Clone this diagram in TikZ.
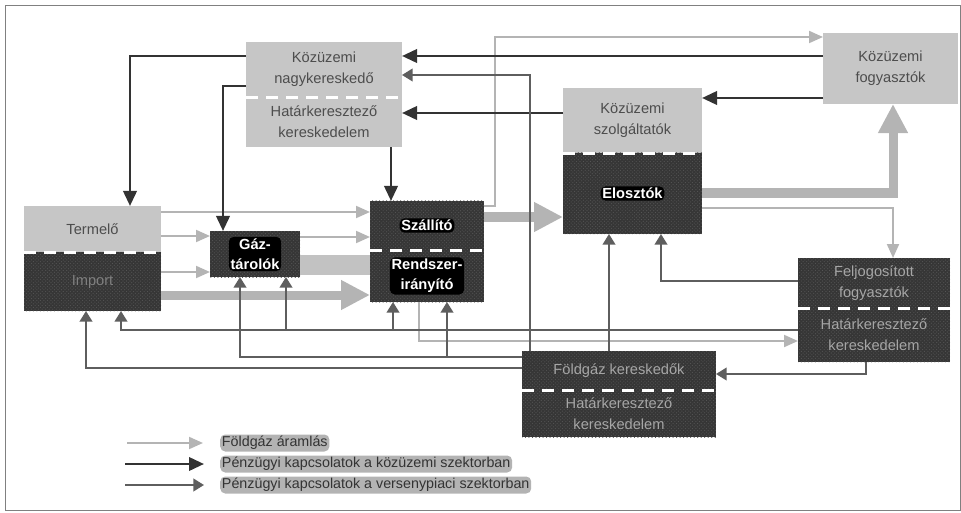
\documentclass[tikz,border=0pt]{standalone}
\usepackage{fontspec}
\setmainfont{Liberation Sans}
\usepackage{xcolor}
\usepackage{tikz}
\usetikzlibrary{arrows.meta,patterns}

\definecolor{lightfill}{HTML}{C6C6C6}
\definecolor{darkfill}{HTML}{363636}
\definecolor{speckle}{HTML}{555555}
\definecolor{gasgray}{HTML}{B4B4B4}
\definecolor{bandgray}{HTML}{C2C2C2}
\definecolor{utilgray}{HTML}{333333}
\definecolor{compgray}{HTML}{5E5E5E}
\definecolor{boxtext}{HTML}{4D4D4D}
\definecolor{dimtext}{HTML}{A6A6A6}
\definecolor{tagfill}{HTML}{B3B3B3}

\tikzset{
	box/.style={anchor=north west, inner sep=0pt, outer sep=0pt, align=center, font=\fontsize{12.5}{18}\selectfont},
	lightbox/.style={box, fill=lightfill, text=boxtext},
	darkbox/.style={box, fill=darkfill, text=dimtext, postaction={pattern=crosshatch dots, pattern color=speckle}},
	divider/.style={white, line width=0.09cm, dash pattern=on 0.36cm off 0.24cm},
	hilabel/.style={fill=black, text=white, rounded corners=0.15cm, inner sep=1.5pt, align=center, font=\fontsize{12.5}{17}\selectfont\bfseries},
	tag/.style={anchor=west, fill=tagfill, text=utilgray, rounded corners=0.15cm, inner sep=1.5pt, font=\fontsize{12.2}{14}\selectfont},
	gasflow/.style={gasgray, line width=0.06cm, -{Triangle[length=0.42cm,width=0.36cm]}},
	gasthick/.style={gasgray, line width=0.27cm, -{Triangle[length=0.87cm,width=0.84cm]}},
	utilline/.style={utilgray, line width=0.08cm, -{Triangle[length=0.45cm,width=0.4cm]}},
	compline/.style={compgray, line width=0.06cm, -{Triangle[length=0.32cm,width=0.38cm]}}
}

\begin{document}
\begin{tikzpicture}[x=0.03cm, y=-0.03cm]
	\useasboundingbox (0,0) rectangle (961,513);
	\draw[gray, line width=0.03cm] (5,6) rectangle (960,510);

	\node[lightbox, minimum width=4.68cm, minimum height=1.65cm] (nagyA) at (246,42) {Közüzemi\\nagykereskedő};
	\node[lightbox, minimum width=4.68cm, minimum height=1.5cm] (nagyB) at (246,97) {Határkeresztező\\kereskedelem};
	\node[lightbox, minimum width=4.11cm, minimum height=1.38cm] (termelo) at (24,206) {Termelő};
	\node[darkbox, minimum width=4.11cm, minimum height=1.77cm, text=gray] (import) at (24,252) {Import};
	\node[darkbox, minimum width=2.7cm, minimum height=1.38cm] (gaz) at (210,231) {};
	\node[darkbox, minimum width=3.42cm, minimum height=1.47cm] (szall) at (370,201) {};
	\node[darkbox, minimum width=3.42cm, minimum height=1.56cm] (rendsz) at (370,250) {};
	\node[lightbox, minimum width=4.17cm, minimum height=1.95cm] (szolg) at (563,88) {Közüzemi\\szolgáltatók};
	\node[darkbox, minimum width=4.17cm, minimum height=2.43cm] (eloszt) at (563,153) {};
	\node[lightbox, minimum width=4.05cm, minimum height=2.13cm] (kfogy) at (823,33) {Közüzemi\\fogyasztók};
	\node[darkbox, minimum width=4.56cm, minimum height=1.5cm] (felj) at (798,258) {Feljogosított\\fogyasztók};
	\node[darkbox, minimum width=4.56cm, minimum height=1.62cm] (hatar2) at (798,308) {Határkeresztező\\kereskedelem};
	\node[darkbox, minimum width=5.82cm, minimum height=1.17cm] (foldgaz) at (522,351) {Földgáz kereskedők};
	\node[darkbox, minimum width=5.82cm, minimum height=1.41cm] (hatar3) at (522,390) {Határkeresztező\\kereskedelem};

	\node[hilabel] (gazT) at (gaz) {Gáz-\\tárolók};
	\node[hilabel] (szallT) at (szall) {Szállító};
	\node[hilabel] (rendszT) at (rendsz) {Rendszer-\\irányító};
	\node[hilabel] (elosztT) at (eloszt) {Elosztók};

	\draw[divider] (nagyA.south west) -- (nagyA.south east);
	\draw[divider] (termelo.south west) -- (termelo.south east);
	\draw[divider] (szall.south west) -- (szall.south east);
	\draw[divider] (szolg.south west) -- (szolg.south east);
	\draw[divider] (felj.south west) -- (felj.south east);
	\draw[divider] (foldgaz.south west) -- (foldgaz.south east);

	\draw[bandgray, line width=0.6cm] (gaz.east |- 0,265) -- (rendsz.west |- 0,265);
	\draw[gasthick] (szall.east |- 0,217) -- (eloszt.west |- 0,217);
	\draw[gasthick] (eloszt.east |- 0,193) -| (kfogy.south -| 893,0);
	\draw[gasthick] (import.east |- 0,295) -- (rendsz.west |- 0,295);

	\draw[gasflow] (termelo.east |- 0,212) -- (szall.west |- 0,212);
	\draw[gasflow] (termelo.east |- 0,236) -- (gaz.west |- 0,236);
	\draw[gasflow] (import.east |- 0,272) -- (gaz.west |- 0,272);
	\draw[gasflow] (gaz.east |- 0,237) -- (szall.west |- 0,237);
	\draw[gasflow] (szall.east |- 0,206) -- (495,206) |- (kfogy.west |- 0,37);
	\draw[gasflow] (eloszt.east |- 0,208) -| (felj.north -| 893,0);
	\draw[gasflow] (rendsz.south -| 419,0) |- (hatar2.west |- 0,341);

	\draw[utilline] (nagyA.west |- 0,56) -| (termelo.north -| 130,0);
	\draw[utilline] (nagyA.west |- 0,86) -| (gaz.north -| 223,0);
	\draw[utilline] (nagyB.south -| 391,0) -- (szall.north -| 391,0);
	\draw[utilline] (kfogy.west |- 0,56) -- (nagyA.east |- 0,56);
	\draw[utilline] (szolg.west |- 0,113) -- (nagyB.east |- 0,113);
	\draw[utilline] (kfogy.west |- 0,98) -- (szolg.east |- 0,98);

	\draw[compline] (foldgaz.north -| 530,0) |- (nagyA.east |- 0,75);
	\draw[compline] (foldgaz.north -| 609,0) -- (eloszt.south -| 609,0);
	\draw[compline] (felj.west |- 0,281) -| (eloszt.south -| 661,0);
	\draw[compline] (hatar2.west |- 0,330) -| (import.south -| 121,0);
	\draw[compline] (286,330) -- (gaz.south -| 286,0);
	\draw[compline] (393,330) -- (rendsz.south -| 393,0);
	\draw[compline] (foldgaz.west |- 0,357) -| (gaz.south -| 240,0);
	\draw[compline] (447,357) -- (rendsz.south -| 447,0);
	\draw[compline] (foldgaz.west |- 0,368) -| (import.south -| 86,0);
	\draw[compline] (hatar2.south -| 866,0) |- (foldgaz.east |- 0,374);

	\coordinate (lg1) at (127,443);
	\coordinate (lg2) at (125,464);
	\coordinate (lg3) at (125,485);
	\draw[gasflow] (lg1) -- ++(76,0);
	\draw[utilline] (lg2) -- ++(79,0);
	\draw[compline] (lg3) -- ++(79,0);
	\node[tag] (tag1) at (220,443) {Földgáz áramlás};
	\node[tag] (tag2) at (220,464) {Pénzügyi kapcsolatok a közüzemi szektorban};
	\node[tag] (tag3) at (220,485) {Pénzügyi kapcsolatok a versenypiaci szektorban};
\end{tikzpicture}
\end{document}
